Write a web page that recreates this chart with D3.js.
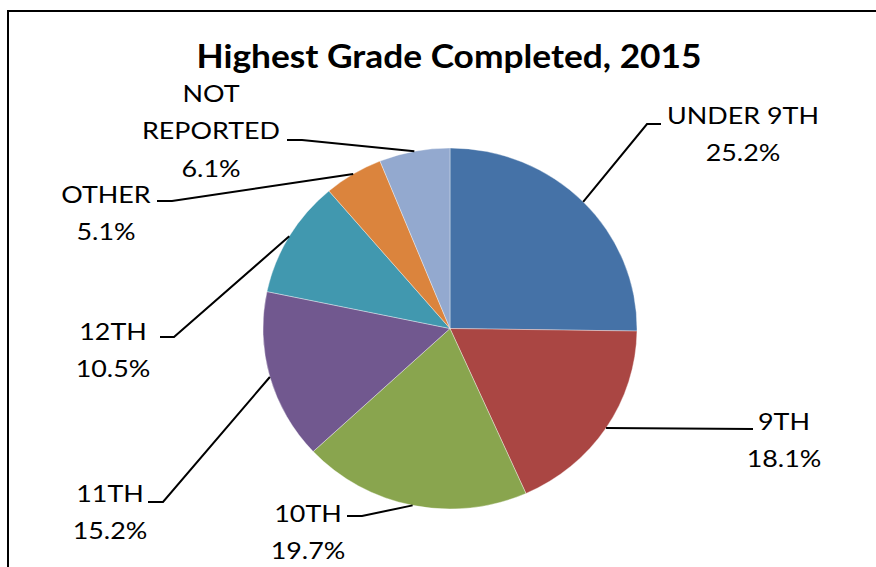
<!DOCTYPE html>
<html>
<head>
<meta charset="utf-8">
<script src="https://cdn.jsdelivr.net/npm/d3@7"></script>
<style>
  html, body { margin: 0; padding: 0; background: #fff; overflow: hidden; }
  svg { display: block; }
  text { font-family: Lato, "Open Sans", "Liberation Sans", sans-serif; fill: #000; }
</style>
</head>
<body>
<svg id="chart" width="876" height="567"></svg>
<script>
// ---- data ----
const categories = ["UNDER 9TH", "9TH", "10TH", "11TH", "12TH", "OTHER", "NOT REPORTED"];
const values = [25.2, 18.1, 19.7, 15.2, 10.5, 5.1, 6.1];
const labelLines = [["UNDER 9TH"], ["9TH"], ["10TH"], ["11TH"], ["12TH"], ["OTHER"], ["NOT", "REPORTED"]];
const colors = ["#4572A7", "#AA4643", "#89A54E", "#71588F", "#4198AF", "#DB843D", "#93A9CF"];
const title = "Highest Grade Completed, 2015";

// ---- layout (label text centre, first baseline, leader bend point) ----
const labelLayout = [
  { cx: 743, y: 124, bend: [647, 124], tail: [661, 124] },
  { cx: 784, y: 430, bend: null, tail: [753, 429] },
  { cx: 308, y: 522, bend: [362, 516], tail: [347, 516] },
  { cx: 110, y: 502, bend: [163, 502], tail: [148, 502] },
  { cx: 113, y: 340, bend: [174, 337], tail: [160, 337] },
  { cx: 106, y: 203, bend: [172, 201], tail: [157, 201] },
  { cx: 211, y: 102, bend: [302, 140], tail: [287, 140] }
];
const lineH = 37.5;

const svg = d3.select("#chart");
const W = 876, H = 567;

// chart border (only top and left edges are visible in the frame)
svg.append("path")
  .attr("d", `M8,${H + 5} L8,11 L${W + 5},11`)
  .attr("fill", "none").attr("stroke", "#000").attr("stroke-width", 2);

// title
svg.append("g")
  .attr("transform", `translate(449,0) scale(1.07,1)`)
  .append("text")
  .attr("x", 0).attr("y", 68)
  .attr("text-anchor", "middle")
  .attr("font-weight", "bold")
  .attr("font-size", 33)
  .text(title);

// pie
const cx = 450, cy = 328.5, ry = 180.5, rx = 187;
const pie = d3.pie().sort(null).value(d => d)(values);
const arc = d3.arc().innerRadius(0).outerRadius(ry);

const g = svg.append("g").attr("transform", `translate(${cx},${cy}) scale(${rx / ry},1)`);
g.selectAll("path").data(pie).join("path")
  .attr("d", arc)
  .attr("fill", (d, i) => colors[i])
  .attr("stroke", "#fff")
  .attr("stroke-width", 0.6)
  .attr("stroke-opacity", 0.6);

// leader lines
const anchor = d => {
  const a = (d.startAngle + d.endAngle) / 2;
  return [cx + rx * Math.sin(a), cy - ry * Math.cos(a)];
};
pie.forEach((d, i) => {
  const L = labelLayout[i];
  const pts = [anchor(d)];
  if (L.bend) pts.push(L.bend);
  pts.push(L.tail);
  svg.append("path")
    .attr("d", d3.line()(pts))
    .attr("fill", "none")
    .attr("stroke", "#000")
    .attr("stroke-width", 2);
});

// labels
pie.forEach((d, i) => {
  const L = labelLayout[i];
  const lines = labelLines[i].concat([d3.format(".1f")(values[i]) + "%"]);
  const t = svg.append("g")
    .attr("transform", `translate(${L.cx},0) scale(1.12,1)`)
    .append("text")
    .attr("text-anchor", "middle")
    .attr("font-size", 24);
  lines.forEach((s, k) => {
    t.append("tspan").attr("x", 0).attr("y", L.y + k * lineH).text(s);
  });
});
</script>
</body>
</html>
